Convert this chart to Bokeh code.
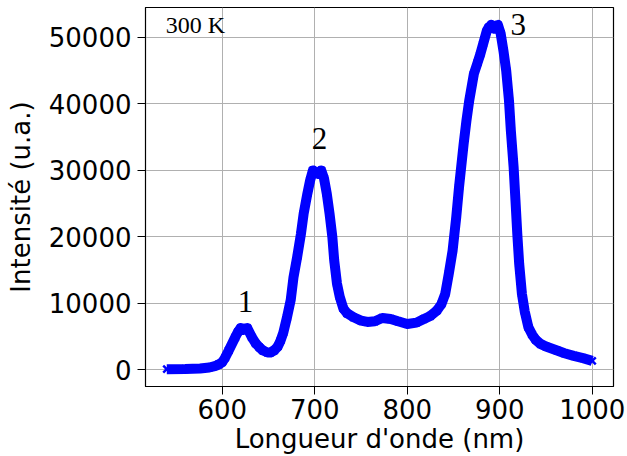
from bokeh.plotting import figure
from bokeh.models import Range1d, FixedTicker, ColumnDataSource
from bokeh.core.properties import value
from bokeh.embed import file_html
from bokeh.resources import INLINE

# Data
wavelength = [540, 560, 576, 586, 593, 596, 600, 603, 607, 614, 617, 620, 623, 627, 632, 636,
              640, 644, 649, 652, 656, 660, 663, 666, 670, 674, 677, 681, 685, 688, 692, 695,
              698, 703, 707, 710, 713, 716, 719, 721, 724, 727, 731, 735, 742, 750, 757, 765,
              773, 782, 790, 800, 810, 818, 825, 832, 837, 841, 845, 849, 853, 856, 861, 864,
              867, 872, 876, 879, 882, 886, 888, 891, 894, 898, 901, 904, 907, 910, 912, 915,
              917, 919, 921, 924, 927, 931, 935, 939, 944, 950, 962, 970, 980, 990, 1000]
intensity = [100, 120, 200, 350, 600, 800, 1150, 1800, 2900, 4900, 5700, 6300, 6000, 6300, 4900, 4000,
             3400, 2900, 2600, 2600, 2900, 3500, 4400, 5600, 7900, 10500, 13900, 17000, 20400, 23500, 26500, 28500,
             30000, 29500, 30000, 28800, 26500, 23500, 20000, 16500, 13000, 11000, 9200, 8500, 7900, 7400, 7200, 7300,
             7800, 7650, 7300, 6900, 7100, 7650, 8100, 8900, 9900, 11400, 14500, 17900, 23000, 27500, 34000, 37500,
             40500, 44500, 46200, 47500, 49000, 51000, 51500, 51900, 51300, 51900, 50600, 48000, 45000, 40500, 36000, 30500,
             25500, 20400, 16000, 11400, 8800, 6400, 5300, 4500, 3900, 3500, 2900, 2500, 2100, 1750, 1350]

peak_labels = ["1", "2", "3"]
peak_x = [625, 705, 920]
peak_y = [10250, 34750, 51950]

temp_label = ["300 K"]
temp_x = [539]
temp_y = [51950]

x_ticks = [600, 700, 800, 900, 1000]
y_ticks = [0, 10000, 20000, 30000, 40000, 50000]

p = figure(width=627, height=456, output_backend="svg", toolbar_location=None,
           x_range=Range1d(517, 1023), y_range=Range1d(-2513, 54514),
           min_border_left=145, min_border_right=14, min_border_top=7, min_border_bottom=70)

src = ColumnDataSource(dict(x=wavelength, y=intensity))
p.line("x", "y", source=src, line_color="#0000ff", line_width=10, line_join="round")
p.scatter("x", "y", source=src, marker="x", size=10, line_color="#0000ff", line_width=2.5)

p.text(x=peak_x, y=peak_y, text=peak_labels, text_font=value("Liberation Serif"),
       text_font_size="31px", text_align="center", text_baseline="alphabetic", text_color="black")
p.text(x=temp_x, y=temp_y, text=temp_label, text_font=value("Liberation Serif"),
       text_font_size="24px", text_align="left", text_baseline="alphabetic", text_color="black")

p.xaxis.ticker = FixedTicker(ticks=x_ticks)
p.yaxis.ticker = FixedTicker(ticks=y_ticks)
p.xaxis.axis_label = "Longueur d'onde (nm)"
p.yaxis.axis_label = "Intensité (u.a.)"

for ax in (p.xaxis, p.yaxis):
    ax.axis_label_text_font = "DejaVu Sans"
    ax.axis_label_text_font_size = "26px"
    ax.axis_label_text_font_style = "normal"
    ax.major_label_text_font = "DejaVu Sans"
    ax.major_label_text_font_size = "26px"
    ax.major_label_text_color = "black"
    ax.axis_label_text_color = "black"
    ax.axis_line_color = "black"
    ax.major_tick_line_color = "black"
    ax.minor_tick_line_color = None
    ax.major_tick_out = 8
    ax.major_tick_in = 0

p.xaxis.major_label_standoff = 4
p.yaxis.major_label_standoff = 6
p.xaxis.axis_label_standoff = 2
p.yaxis.axis_label_standoff = 10

p.grid.grid_line_color = "#b0b0b0"
p.grid.grid_line_width = 1
p.outline_line_color = "black"
p.outline_line_width = 1.2
p.background_fill_color = "white"
p.border_fill_color = "white"

open("out.html", "w").write(file_html(p, INLINE))
